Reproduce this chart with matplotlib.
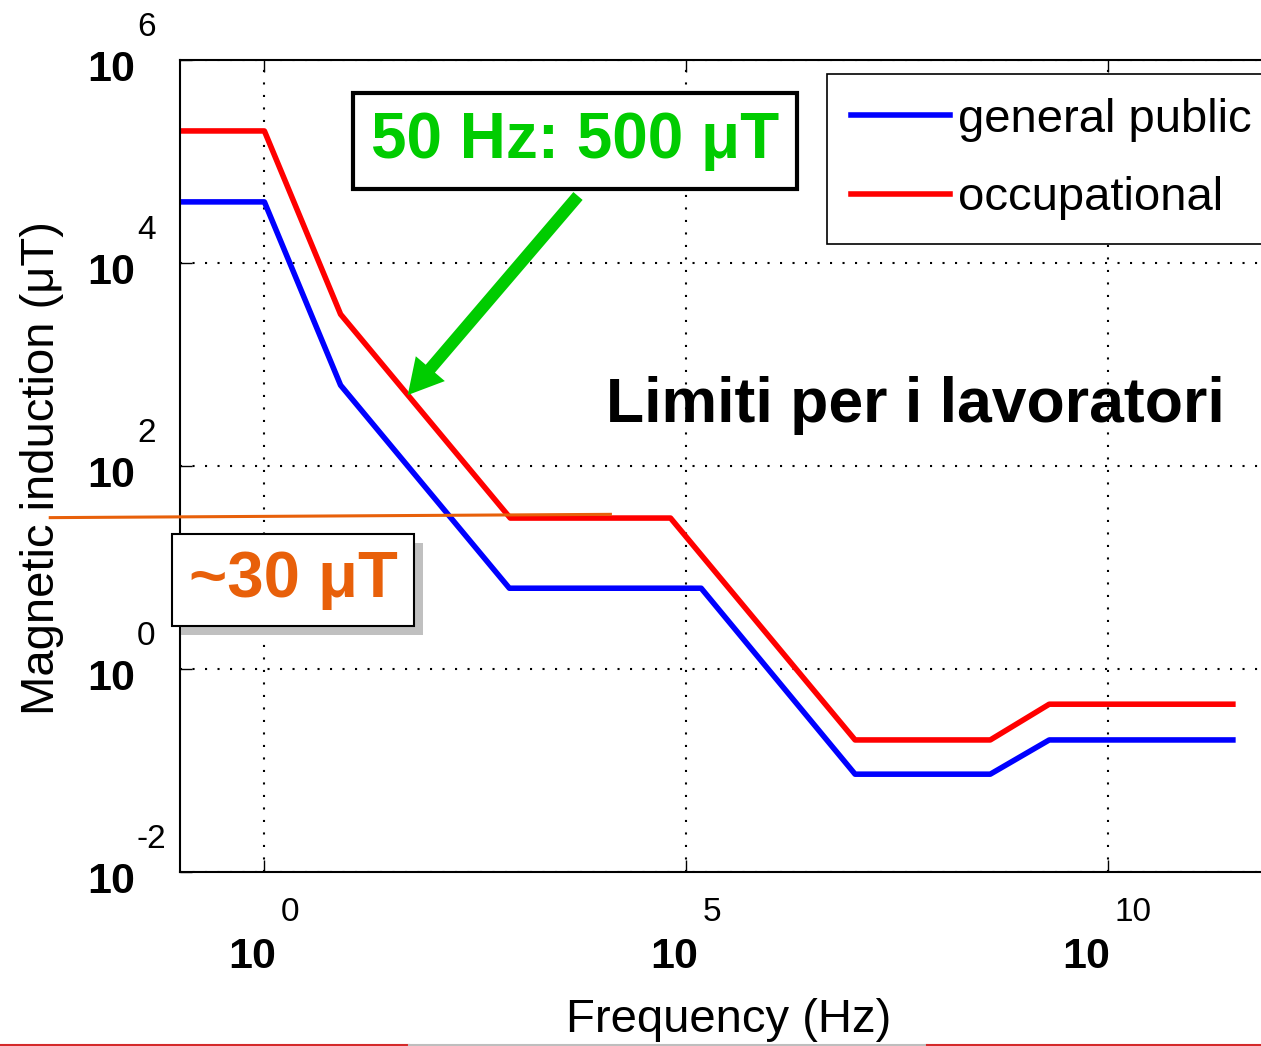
import matplotlib
matplotlib.use('Agg')
import matplotlib.pyplot as plt
import matplotlib.patheffects as pe
from matplotlib.lines import Line2D

plt.rcParams['font.family'] = ['Liberation Sans', 'DejaVu Sans']

# limiti di riferimento (punti di rottura), f in Hz, B in uT
freq_public = [1e-1, 1, 8, 800, 1.5e5, 1e7, 4e8, 2e9, 3e11]
b_public = [4e4, 4e4, 625, 6.25, 6.25, 0.092, 0.092, 0.2, 0.2]
freq_occup = [1e-1, 1, 8, 820, 6.5e4, 1e7, 4e8, 2e9, 3e11]
b_occup = [2e5, 2e5, 3125, 30.7, 30.7, 0.2, 0.2, 0.45, 0.45]

# linea arancione ~30 uT
ref_freq = [2.9e-3, 1.26e4]
ref_b = [31, 33.4]

# punto indicato dalla freccia
f50, b50 = 50, 500

x_exps = [0, 5, 10]
y_exps = [-2, 0, 2, 4, 6]

W, H = 1261, 1046
green = '#00CC00'
orange = '#E8600A'

fig = plt.figure(figsize=(W / 100, H / 100), dpi=100)
ax = fig.add_axes([180 / W, 174 / H, 1097 / W, 812 / H])

ax.loglog(freq_public, b_public, color='blue', lw=4, label='general public')
ax.loglog(freq_occup, b_occup, color='red', lw=4, label='occupational')

ax.set_xlim(1e-1, 1e12)
ax.set_ylim(1e-2, 1e6)
ax.set_xticks([10.0 ** e for e in x_exps])
ax.set_yticks([10.0 ** e for e in y_exps])
ax.minorticks_off()
ax.tick_params(direction='in', length=8.6, width=1, top=True, right=True,
               labelbottom=False, labelleft=False)
ax.grid(True, color='black', linestyle=(0, (1, 5)), lw=1.5)
for s in ax.spines.values():
    s.set_linewidth(1.5)

# etichette dei tick in stile MATLAB (10 + esponente)
for e in y_exps:
    ax.annotate('10', xy=(0, 10.0 ** e), xycoords=('axes fraction', 'data'),
                xytext=(-45, -21), textcoords='offset pixels', ha='right', va='baseline',
                fontsize=31, fontweight='bold', annotation_clip=False)
    ax.annotate(str(e), xy=(0, 10.0 ** e), xycoords=('axes fraction', 'data'),
                xytext=(-43, 24), textcoords='offset pixels', ha='left', va='baseline',
                fontsize=24, annotation_clip=False)
for e in x_exps:
    shift = 10 * (len(str(e)) - 1)
    ax.annotate('10', xy=(10.0 ** e, 0), xycoords=('data', 'axes fraction'),
                xytext=(12 - shift, -96), textcoords='offset pixels', ha='right', va='baseline',
                fontsize=31, fontweight='bold', annotation_clip=False)
    ax.annotate(str(e), xy=(10.0 ** e, 0), xycoords=('data', 'axes fraction'),
                xytext=(16 - shift, -49), textcoords='offset pixels', ha='left', va='baseline',
                fontsize=24, annotation_clip=False)

ax.set_xlabel('Frequency (Hz)', fontsize=34, va='center')
ax.xaxis.set_label_coords(0.5, (872 - 1020) / 812)
ax.set_ylabel('Magnetic induction (\u03bcT)', fontsize=34, va='center')
ax.yaxis.set_label_coords((42 - 180) / 1097, (872 - 468) / 812)

leg = ax.legend(loc='upper left', bbox_to_anchor=(827 / W, 1 - 74 / H),
                bbox_transform=fig.transFigure, borderaxespad=0, fontsize=34,
                handlelength=2.1, handletextpad=0.17, labelspacing=0.73,
                borderpad=0.5, fancybox=False, edgecolor='black', framealpha=1)
leg.get_frame().set_linewidth(1.2)

# riquadro verde + freccia
fig.text(575 / W, 1 - 141 / H, '50 Hz: 500 \u03bcT', ha='center', va='center',
         fontsize=46, fontweight='bold', color=green, zorder=10,
         bbox=dict(boxstyle='square,pad=0.28', facecolor='white', edgecolor='black', linewidth=3))
ax.annotate('', xy=(f50, b50), xycoords='data',
            xytext=(578 / W, 1 - 196 / H), textcoords='figure fraction',
            arrowprops=dict(arrowstyle='simple,head_length=1.0,head_width=1.1,tail_width=0.35',
                            mutation_scale=25, color=green, lw=0, shrinkA=0, shrinkB=0),
            zorder=10)

fig.text(915 / W, 1 - 422 / H, 'Limiti per i lavoratori', ha='center', va='baseline',
         fontsize=45, fontweight='bold', color='black', zorder=10)

# linea arancione e riquadro ~30 uT con ombra
ax.plot(ref_freq, ref_b, color=orange, lw=2.2, clip_on=False, zorder=5)
t30 = fig.text(293 / W, 1 - 580 / H, '~30 \u03bcT', ha='center', va='center',
               fontsize=47, fontweight='bold', color=orange, zorder=10,
               bbox=dict(boxstyle='square,pad=0.25', facecolor='white', edgecolor='black', linewidth=1.5))
t30.get_bbox_patch().set_path_effects([
    pe.SimplePatchShadow(offset=(6.5, -6.5), shadow_rgbFace='#c0c0c0', alpha=1),
    pe.Normal()])

# striscia in fondo (bordo della slide)
yb = 1 - 1044.5 / H
fig.add_artist(Line2D([0, 409 / W], [yb, yb], color='#d42a2a', lw=1.5))
fig.add_artist(Line2D([409 / W, 927 / W], [yb, yb], color='#bebebe', lw=1.5))
fig.add_artist(Line2D([927 / W, 1], [yb, yb], color='#d42a2a', lw=1.5))

fig.savefig('out.png', dpi=100)
